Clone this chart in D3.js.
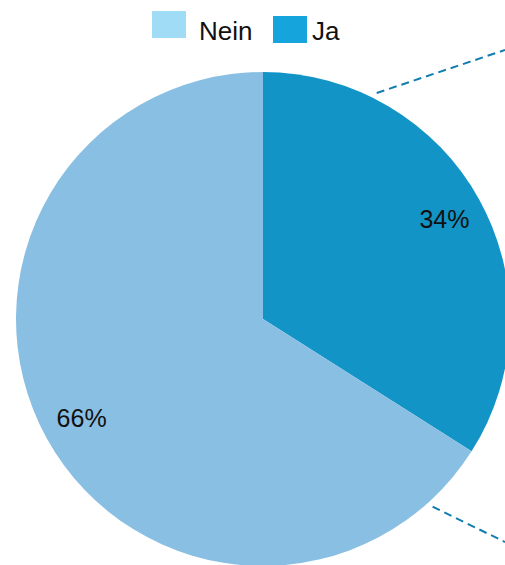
<!DOCTYPE html>
<html>
<head>
<meta charset="utf-8">
<script src="https://cdn.jsdelivr.net/npm/d3@7"></script>
<style>
  html, body { margin: 0; padding: 0; background: #fff; }
  svg { display: block; font-family: "Liberation Sans", Arial, Helvetica, sans-serif; }
</style>
</head>
<body>
<svg id="chart" width="505" height="565"></svg>
<script>
// data
var categories = ['Ja', 'Nein'];
var values = [34, 66];
var sliceColors = ['#1394c6', '#8abfe4'];
var legendColors = ['#15a5dc', '#a0dcf5'];
// connector lines towards the (cut off) secondary pie: start angle on the rim, end point
var connectorAngles = [26.7, 137.9];
var connectorEnds = [[505, 50], [505, 542]];

var width = 505, height = 565;
var cx = 263, cy = 319, radius = 247;

var svg = d3.select('#chart');

var pie = d3.pie()
  .sort(null)
  .value(function (d) { return d.value; });

var data = categories.map(function (c, i) {
  return { name: c, value: values[i], color: sliceColors[i] };
});

var arc = d3.arc().innerRadius(0).outerRadius(radius);
var labelArc = d3.arc().innerRadius(207).outerRadius(207);

var g = svg.append('g')
  .attr('transform', 'translate(' + cx + ',' + cy + ')');

g.selectAll('path.slice')
  .data(pie(data))
  .enter()
  .append('path')
  .attr('class', 'slice')
  .attr('d', arc)
  .attr('fill', function (d) { return d.data.color; });

g.selectAll('text.pct')
  .data(pie(data))
  .enter()
  .append('text')
  .attr('class', 'pct')
  .attr('transform', function (d) { return 'translate(' + labelArc.centroid(d) + ')'; })
  .attr('text-anchor', 'middle')
  .attr('dy', '0.35em')
  .attr('font-size', 25)
  .attr('fill', '#111')
  .text(function (d) { return d.data.value + '%'; });

// dashed connector lines
connectorAngles.forEach(function (a, i) {
  var rad = a * Math.PI / 180;
  var r0 = radius + 6;
  svg.append('line')
    .attr('x1', cx + r0 * Math.sin(rad))
    .attr('y1', cy - r0 * Math.cos(rad))
    .attr('x2', connectorEnds[i][0])
    .attr('y2', connectorEnds[i][1])
    .attr('stroke', '#127eb0')
    .attr('stroke-width', 2)
    .attr('stroke-dasharray', '8,5');
});

// legend
var legendItems = [
  { name: 'Nein', x: 152, y: 11, gap: 13 },
  { name: 'Ja', x: 273, y: 16, gap: 5 }
];
var legend = svg.append('g').attr('class', 'legend');
legendItems.forEach(function (d) {
  var idx = categories.indexOf(d.name);
  legend.append('rect')
    .attr('x', d.x)
    .attr('y', d.y)
    .attr('width', 34)
    .attr('height', 27)
    .attr('fill', legendColors[idx]);
  legend.append('text')
    .attr('x', d.x + 34 + d.gap)
    .attr('y', 40)
    .attr('font-size', 26)
    .attr('fill', '#111')
    .text(d.name);
});
</script>
</body>
</html>
